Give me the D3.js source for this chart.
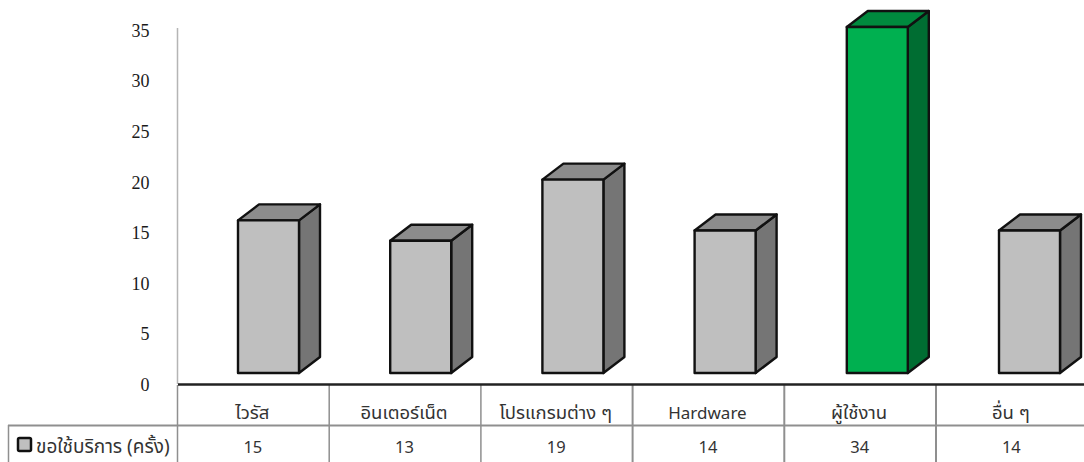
<!DOCTYPE html>
<html><head><meta charset="utf-8">
<script src="https://cdn.jsdelivr.net/npm/d3@7/dist/d3.min.js"></script>
<style>html,body{margin:0;padding:0;background:#fff;overflow:hidden}svg{display:block}</style>
</head><body><svg id="c" width="1084" height="462"></svg>
<script>
const categories=["ไวรัส","อินเตอร์เน็ต","โปรแกรมต่าง ๆ","Hardware","ผู้ใช้งาน","อื่น ๆ"];
const values=[15,13,19,14,34,14];
const seriesName="ขอใช้บริการ (ครั้ง)";
const highlightIndex=4;
const yTicks=[0,5,10,15,20,25,30,35];
const thaiFont='"Noto Sans Thai","Noto Sans","Open Sans",sans-serif';

const svg=d3.select("#c");
const x=d3.scaleBand().domain(categories).range([177,1087.2]);
const xBar=d3.scaleBand().domain(categories).range([178,1091.2]);
const yBar=d3.scaleLinear().domain([0,34]).range([373,27]);
const yLabel=d3.scaleLinear().domain([0,35]).range([384.6,30.6]);
const barW=61,dx=21,dy=16,barOff=60;

svg.append("line").attr("x1",177.5).attr("x2",177.5).attr("y1",28).attr("y2",384).attr("stroke","#b5b5b5").attr("stroke-width",1.5);
svg.append("g").selectAll("text").data(yTicks).join("text")
 .attr("x",149.5).attr("y",d=>yLabel(d)).attr("dy","0.35em").attr("text-anchor","end")
 .attr("font-family",'"Liberation Serif",serif').attr("font-size",18).attr("fill","#1a1a1a").text(d=>d);

const g=svg.append("g").selectAll("g").data(values).join("g");
const stroke="#111";
g.each(function(v,i){
  const s=d3.select(this),x0=xBar(categories[i])+barOff,x1=x0+barW,t=yBar(v),b=yBar(0),hi=i===highlightIndex;
  const c=hi?["#00b050","#008a3e","#006d32"]:["#bfbfbf","#8c8c8c","#757575"];
  const poly=(p,f)=>s.append("polygon").attr("points",p.map(q=>q.join(",")).join(" ")).attr("fill",f).attr("stroke",stroke).attr("stroke-width",2.4).attr("stroke-linejoin","round");
  poly([[x1,t],[x1+dx,t-dy],[x1+dx,b-dy],[x1,b]],c[2]);
  poly([[x0,t],[x0+dx,t-dy],[x1+dx,t-dy],[x1,t]],c[1]);
  poly([[x0,t],[x1,t],[x1,b],[x0,b]],c[0]);
});

const gray="#8f8f8f";
x.domain().forEach((c,i)=>{
  svg.append("line").attr("x1",x(c)+.5).attr("x2",x(c)+.5).attr("y1",385).attr("y2",462).attr("stroke",gray).attr("stroke-width",i>2?2:1.5);
});
svg.append("line").attr("x1",8).attr("x2",1084).attr("y1",425.5).attr("y2",425.5).attr("stroke",gray).attr("stroke-width",2);
svg.append("line").attr("x1",8.5).attr("x2",8.5).attr("y1",425).attr("y2",462).attr("stroke",gray).attr("stroke-width",1.5);
svg.append("line").attr("x1",178).attr("x2",1084).attr("y1",384.5).attr("y2",384.5).attr("stroke","#222").attr("stroke-width",2.5);

const centers=c=>x(c)+x.bandwidth()/2;
svg.append("g").selectAll("text").data(categories).join("text")
 .attr("x",d=>centers(d)-0.5).attr("y",419).attr("text-anchor","middle").attr("font-family",thaiFont)
 .attr("font-size",d=>/^[A-Za-z]/.test(d)?17:18.5).attr("fill","#333").text(d=>d);
svg.append("g").selectAll("text").data(values).join("text")
 .attr("x",(d,i)=>centers(categories[i])).attr("y",453).attr("text-anchor","middle").attr("font-family",thaiFont).attr("font-size",16.5).attr("fill","#333").text(d=>d);
svg.append("rect").attr("x",18).attr("y",438).attr("width",13).attr("height",13).attr("rx",1.5).attr("fill","#bfbfbf").attr("stroke","#111").attr("stroke-width",2.5);
svg.append("text").attr("x",36).attr("y",453).attr("font-family",thaiFont).attr("font-size",19).attr("fill","#333").text(seriesName);
</script></body></html>
